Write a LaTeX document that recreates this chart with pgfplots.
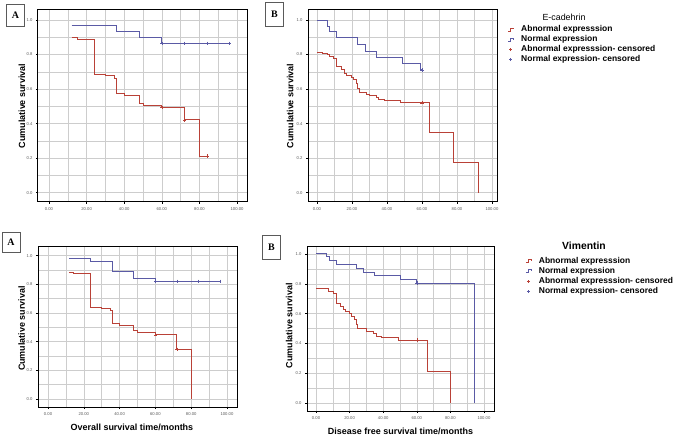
\documentclass[border=0pt]{standalone}
\usepackage{fontspec}
\setmainfont{Liberation Sans}
\newfontfamily\serifbf{Liberation Serif}
\usepackage{pgfplots}
\pgfplotsset{compat=1.18}

\definecolor{kmred}{RGB}{185,65,55}
\definecolor{kmblue}{RGB}{90,90,165}
\definecolor{gridgray}{RGB}{205,205,205}
\definecolor{tickgray}{RGB}{90,90,90}

\pgfplotsset{
  kmaxis/.style={
    scale only axis,
    anchor=south west,
    tick pos=left,
    tick align=outside,
    major tick length=2bp,
    minor tick length=0pt,
    tick style={black, line width=0.4bp},
    axis line style={line width=1bp},
    grid=both,
    major grid style={gridgray, line width=0.5bp},
    minor grid style={gridgray, line width=0.5bp},
    xtick={0,20,40,60,80,100},
    ytick={0,0.2,0.4,0.6,0.8,1.0},
    minor x tick num=1,
    minor y tick num=1,
    /pgf/number format/assume math mode=true,
    xticklabel style={font=\fontsize{4.2}{5}\selectfont, text=tickgray,
      /pgf/number format/.cd, fixed, fixed zerofill, precision=2},
    yticklabel style={font=\fontsize{4.2}{5}\selectfont, text=tickgray,
      /pgf/number format/.cd, fixed, fixed zerofill, precision=1},
    label style={font=\bfseries\fontsize{9}{10}\selectfont},
    ylabel={Cumulative survival},
  },
  kmline/.style={const plot, line width=1bp, #1,
    legend image code/.code={\draw[##1, line width=0.6bp] (0bp,-1.5bp) -- (2bp,-1.5bp) -- (2bp,1.5bp) -- (5bp,1.5bp) -- (5bp,0bp);
      \path[draw=none, fill=none] (0bp,0bp) rectangle (12bp,0.1bp);}},
  kmcens/.style={only marks, mark=+, mark size=1.6bp, #1, mark options={line width=0.5bp},
    legend image code/.code={\draw[##1, line width=0.5bp] (1bp,0bp) -- (4bp,0bp) (2.5bp,-1.5bp) -- (2.5bp,1.5bp);
      \path[draw=none, fill=none] (0bp,0bp) rectangle (12bp,0.1bp);}},
  kmlegend/.style={legend style={draw=none, fill=none, anchor=north west,
      font=\bfseries\fontsize{8.5}{10}\selectfont, row sep=0.4bp,
      nodes={inner sep=1bp}}, legend cell align=left},
}

\begin{document}
\begin{tikzpicture}
\useasboundingbox (0,0) rectangle (676bp,436bp);

% E-cadherin, overall survival
\begin{axis}[kmaxis, at={(38bp,234bp)}, width=209bp, height=192bp,
  xmin=-5.85, xmax=105.3, ymin=-0.054, ymax=1.058,
  ylabel style={at={(axis description cs:-0.077,0.5)}, anchor=center}]
  \addplot[kmline=kmred] coordinates {
    (12,0.900) (15,0.890) (24,0.687) (30,0.676) (35,0.664) (36,0.572)
    (40,0.564) (48,0.518) (50,0.506) (60,0.494) (72,0.421) (80,0.212) (84,0.212)};
  \addplot[kmline=kmblue] coordinates {
    (12,0.967) (36,0.932) (48,0.898) (60,0.865) (96,0.865)};
  \addplot[kmcens=kmred] coordinates {(60,0.494) (72,0.421) (84,0.212)};
  \addplot[kmcens=kmblue] coordinates {(60,0.865) (72,0.865) (84,0.865) (96,0.865)};
\end{axis}

% E-cadherin, disease free survival
\begin{axis}[kmaxis, kmlegend, at={(308bp,234bp)}, width=189bp, height=192bp,
  xmin=-5.1, xmax=102.9, ymin=-0.054, ymax=1.058,
  ylabel style={at={(axis description cs:-0.095,0.5)}, anchor=center},
  legend style={at={(axis description cs:1.041,0.935)}}]
  \addplot[kmline=kmred] coordinates {
    (0,0.813) (3.4,0.807) (6,0.798) (7.2,0.788) (9.7,0.778) (11.4,0.730)
    (14.3,0.711) (15.8,0.688) (16.8,0.676) (19.6,0.669) (21,0.653) (22.5,0.630)
    (23.4,0.605) (24.4,0.580) (28.2,0.570) (30,0.561) (33.9,0.551) (35.4,0.541)
    (37.3,0.538) (38.5,0.532) (48,0.520) (64.6,0.351) (78,0.177) (92.2,0)};
  \addlegendentry{Abnormal expresssion}
  \addplot[kmline=kmblue] coordinates {
    (0,1.0) (6,0.965) (7,0.931) (11.4,0.896) (23.4,0.861) (27.6,0.819)
    (34.3,0.782) (49,0.746) (59,0.711) (60,0.711)};
  \addlegendentry{Normal expression}
  \addplot[kmcens=kmred] coordinates {(60,0.520)};
  \addlegendentry{Abnormal expresssion- censored}
  \addplot[kmcens=kmblue] coordinates {(60,0.711)};
  \addlegendentry{Normal expression- censored}
\end{axis}

% Vimentin, overall survival
\begin{axis}[kmaxis, at={(38bp,29bp)}, width=199bp, height=160bp,
  xmin=-5.6, xmax=105.6, ymin=-0.056, ymax=1.06,
  ylabel style={at={(axis description cs:-0.082,0.49)}, anchor=center},
  xlabel={Overall survival time/months},
  xlabel style={at={(axis description cs:0.472,-0.125)}, anchor=center}]
  \addplot[kmline=kmred] coordinates {
    (12,0.884) (14,0.872) (24,0.637) (30,0.628) (35,0.614) (36,0.528)
    (40,0.514) (48,0.477) (50,0.463) (60,0.447) (72,0.347) (80,0)};
  \addplot[kmline=kmblue] coordinates {
    (12,0.979) (24,0.958) (36,0.891) (48,0.842) (60,0.821) (96,0.821)};
  \addplot[kmcens=kmred] coordinates {(60,0.447) (72,0.347)};
  \addplot[kmcens=kmblue] coordinates {(60,0.821) (72,0.821) (84,0.821) (96,0.821)};
\end{axis}

% Vimentin, disease free survival
\begin{axis}[kmaxis, kmlegend, at={(307bp,25bp)}, width=187bp, height=164bp,
  xmin=-5.4, xmax=106, ymin=-0.054, ymax=1.047,
  ylabel style={at={(axis description cs:-0.095,0.52)}, anchor=center},
  xlabel={Disease free survival time/months},
  xlabel style={at={(axis description cs:0.5,-0.122)}, anchor=center},
  legend style={at={(axis description cs:1.152,0.957)}}]
  \addplot[kmline=kmred] coordinates {
    (0,0.771) (5.4,0.766) (7.3,0.748) (10.3,0.737) (11.9,0.670) (14.3,0.647)
    (16.3,0.625) (17.3,0.613) (19.8,0.602) (21.2,0.580) (22.6,0.557) (23.8,0.524)
    (24.8,0.497) (30.2,0.479) (34.1,0.463) (36.1,0.449) (39.1,0.438) (49,0.422)
    (66.4,0.208) (80.2,0)};
  \addlegendentry{Abnormal expresssion}
  \addplot[kmline=kmblue] coordinates {
    (0,1.0) (6.3,0.980) (7.9,0.955) (11.9,0.928) (24.2,0.906) (28.2,0.879)
    (35.1,0.854) (50,0.830) (60,0.805) (94.2,0)};
  \addlegendentry{Normal expression}
  \addplot[kmcens=kmred] coordinates {(60,0.422)};
  \addlegendentry{Abnormal expresssion- censored}
  \addplot[kmcens=kmblue] coordinates {(60,0.805)};
  \addlegendentry{Normal expression- censored}
\end{axis}

% legend titles
\node[font=\fontsize{8.9}{10}\selectfont] at (564bp,419bp) {E-cadehrin};
\node[font=\bfseries\fontsize{10.4}{12}\selectfont] at (584bp,190bp) {Vimentin};

% panel letters
\tikzset{panel/.style={draw=tickgray, line width=0.6bp, inner sep=0pt,
  minimum width=18bp, minimum height=22bp, font=\serifbf\bfseries\fontsize{10}{10}\selectfont}}
\node[panel] at (15.5bp,421bp) {A};
\node[panel, minimum height=24bp] at (274.5bp,421.5bp) {B};
\node[panel, minimum height=20bp] at (11bp,193.5bp) {A};
\node[panel, minimum height=24bp] at (271.5bp,189bp) {B};
\end{tikzpicture}
\end{document}
